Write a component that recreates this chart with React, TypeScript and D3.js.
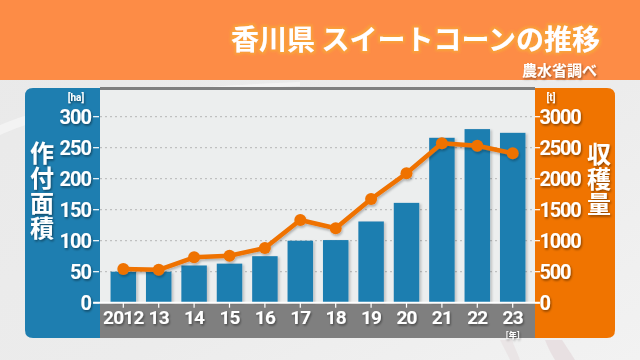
import React from "react";
import * as d3 from "d3";

const years = ["2012", "13", "14", "15", "16", "17", "18", "19", "20", "21", "22", "23"];
const areaHa = [50, 50, 60, 63, 75, 100, 101, 131, 161, 266, 280, 274];
const harvestT = [543, 530, 732, 758, 882, 1334, 1200, 1672, 2087, 2571, 2532, 2410];
const leftTicks = [0, 50, 100, 150, 200, 250, 300];
const rightTicks = [0, 500, 1000, 1500, 2000, 2500, 3000];

const FONT = "'Noto Sans CJK JP', 'Noto Sans', sans-serif";
const NUM = "Roboto, 'Noto Sans', sans-serif";

export default function App() {
  const W = 640, H = 360;
  const plotL = 100, plotR = 535, plotT = 90, zeroY = 302.7, topY = 116.7;
  const x = d3.scaleBand<string>().domain(years).range([105.6, 530.4]).paddingInner(0.28).paddingOuter(0.14);
  const yL = d3.scaleLinear().domain([0, 300]).range([zeroY, topY]);
  const yR = d3.scaleLinear().domain([0, 3000]).range([zeroY, topY]);
  const cx = (d: string) => (x(d) as number) + x.bandwidth() / 2;
  const line = d3.line<number>().x((_, i) => cx(years[i])).y((v) => yR(v));

  const txt = { fontFamily: FONT, fontWeight: 700, fill: "#fff" } as const;
  const num = { fontFamily: NUM, fontWeight: 700, fill: "#fff" } as const;

  return (
    <svg width={W} height={H} style={{ position: "absolute", left: 0, top: 0 }}>
      <defs>
        <filter id="ts" x="-20%" y="-20%" width="140%" height="140%">
          <feDropShadow dx="1" dy="1.5" stdDeviation="0.8" floodColor="#000" floodOpacity="0.45" />
        </filter>
        <filter id="bs" x="-20%" y="-20%" width="150%" height="140%">
          <feDropShadow dx="2" dy="1" stdDeviation="0.8" floodColor="#000" floodOpacity="0.18" />
        </filter>
        <filter id="ls" x="-10%" y="-10%" width="120%" height="130%">
          <feDropShadow dx="1" dy="2" stdDeviation="1" floodColor="#000" floodOpacity="0.25" />
        </filter>
        <filter id="glow" x="-10%" y="-30%" width="120%" height="160%">
          <feMorphology in="SourceAlpha" operator="dilate" radius="2.2" result="d" />
          <feGaussianBlur in="d" stdDeviation="1.2" result="b" />
          <feFlood floodColor="#f9a23a" />
          <feComposite in2="b" operator="in" result="g" />
          <feMerge>
            <feMergeNode in="g" />
            <feMergeNode in="SourceGraphic" />
          </feMerge>
        </filter>
        <linearGradient id="bg" x1="0" y1="0" x2="1" y2="1">
          <stop offset="0" stopColor="#e9e9e9" />
          <stop offset="0.6" stopColor="#ececec" />
          <stop offset="1" stopColor="#f2f2f2" />
        </linearGradient>
      </defs>

      {/* background */}
      <rect x={0} y={0} width={W} height={H} fill="url(#bg)" />
      <path d="M0,125 C60,100 150,88 300,82 L300,86 C150,93 60,108 0,135 Z" fill="#f5f5f5" opacity={0.8} />
      <path d="M545,340 C548,348 552,355 555,360 L575,360 C570,352 566,346 562,340 Z" fill="#e4d8dc" opacity={0.7} />
      <path d="M500,340 C505,350 508,355 510,360 L520,360 C517,352 514,346 512,340 Z" fill="#e6dde0" opacity={0.6} />

      {/* header */}
      <rect x={0} y={0} width={W} height={80} fill="#fd8c46" />
      <text x={600} y={50} textAnchor="end" style={{ ...txt, fontSize: 28 }} filter="url(#glow)">
        香川県 スイートコーンの推移
      </text>
      <text x={597} y={76} textAnchor="end" style={{ ...txt, fontSize: 15 }} filter="url(#ts)">
        農水省調べ
      </text>

      {/* side panels */}
      <path d={`M${plotL},88 L33,88 Q25,88 25,96 L25,330 Q25,338 33,338 L${plotL},338 Z`} fill="#1e7eb0" />
      <path d={`M${plotR},88 L607,88 Q615,88 615,96 L615,330 Q615,338 607,338 L${plotR},338 Z`} fill="#f07400" />

      {/* plot area */}
      <rect x={plotL} y={87} width={plotR - plotL} height={4} fill="#7f7f7f" />
      <rect x={plotL} y={plotT} width={plotR - plotL} height={zeroY - plotT} fill="#eceeee" />
      <rect x={plotL} y={zeroY} width={plotR - plotL} height={338 - zeroY} fill="#7f7f7f" />

      {/* grid */}
      {leftTicks.filter((t) => t > 0).map((t) => (
        <line key={t} x1={plotL} x2={plotR} y1={yL(t)} y2={yL(t)} stroke="#b4b6b6" strokeWidth={1} strokeDasharray="2,3" />
      ))}

      {/* bars */}
      <g filter="url(#bs)">
        {areaHa.map((v, i) => (
          <rect key={years[i]} x={x(years[i])} y={yL(v)} width={x.bandwidth()} height={zeroY - yL(v)} fill="#1d7eb0" />
        ))}
      </g>

      {/* zero line & ticks */}
      <line x1={93} x2={540} y1={zeroY} y2={zeroY} stroke="#fff" strokeWidth={2} />
      {years.map((y) => (
        <line key={y} x1={cx(y)} x2={cx(y)} y1={zeroY} y2={zeroY + 5} stroke="#fff" strokeWidth={1.2} />
      ))}

      {/* line series */}
      <g filter="url(#ls)">
        <path d={line(harvestT) || ""} fill="none" stroke="#ef7200" strokeWidth={4.5} strokeLinejoin="round" />
        {harvestT.map((v, i) => (
          <circle key={years[i]} cx={cx(years[i])} cy={yR(v)} r={6} fill="#ef7200" />
        ))}
      </g>

      {/* x labels */}
      <g filter="url(#ts)">
        {years.map((y) => (
          <text key={y} x={cx(y)} y={323.5} textAnchor="middle" style={{ ...num, fontSize: 19, letterSpacing: -0.8 }}>
            {y}
          </text>
        ))}
        <text x={cx("23")} y={337.5} textAnchor="middle" style={{ ...txt, fontSize: 8 }}>［年］</text>
      </g>

      {/* left axis */}
      {leftTicks.map((t) => (
        <line key={t} x1={93} x2={99} y1={yL(t)} y2={yL(t)} stroke="#fff" strokeWidth={1.2} />
      ))}
      <g filter="url(#ts)">
        {leftTicks.map((t) => (
          <text key={t} x={91} y={yL(t)} dy="0.36em" textAnchor="end" style={{ ...num, fontSize: 20, letterSpacing: -1 }}>
            {t}
          </text>
        ))}
        <text x={76} y={101} textAnchor="middle" style={{ ...num, fontSize: 10 }}>[ha]</text>
        <text x={42} y={141} style={{ ...txt, fontSize: 24, writingMode: "vertical-rl", letterSpacing: 1 } as any}>
          作付面積
        </text>
      </g>

      {/* right axis */}
      {rightTicks.map((t) => (
        <line key={t} x1={535} x2={540} y1={yR(t)} y2={yR(t)} stroke="#fff" strokeWidth={1.2} />
      ))}
      <g filter="url(#ts)">
        {rightTicks.map((t) => (
          <text key={t} x={539.5} y={yR(t)} dy="0.36em" textAnchor="start" style={{ ...num, fontSize: 20, letterSpacing: -1.2 }}>
            {t}
          </text>
        ))}
        <text x={551} y={101} textAnchor="middle" style={{ ...num, fontSize: 10 }}>[t]</text>
        <text x={599} y={142} style={{ ...txt, fontSize: 24, writingMode: "vertical-rl", letterSpacing: 1 } as any}>
          収穫量
        </text>
      </g>
    </svg>
  );
}
